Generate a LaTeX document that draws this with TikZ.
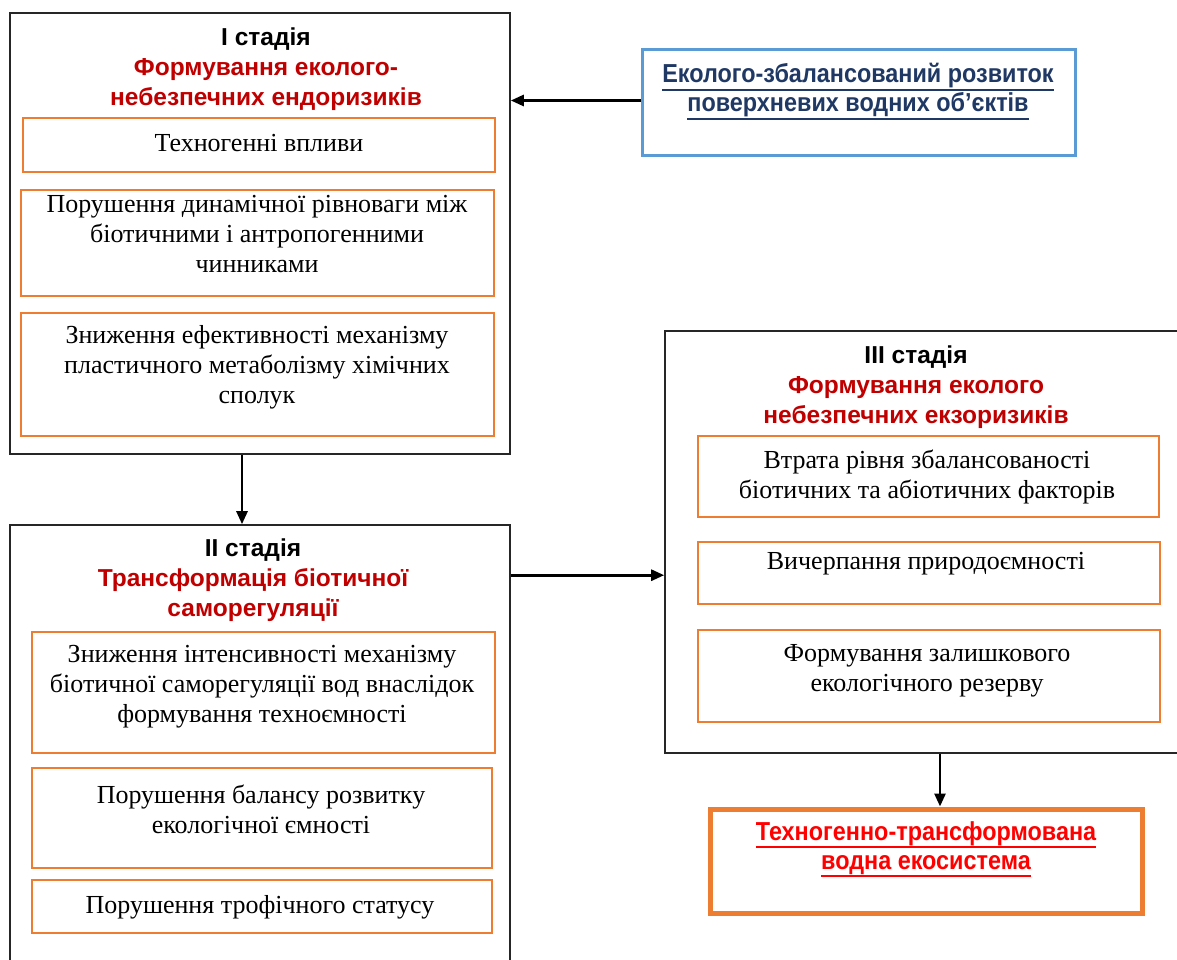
\documentclass[tikz,border=0pt]{standalone}
\usepackage{fontspec}
\setmainfont{Liberation Serif}
\setsansfont{Liberation Sans}
\newfontfamily\headfont{Liberation Sans}
\newfontfamily\condfont{Liberation Sans}[FakeStretch=0.9]
\usetikzlibrary{arrows.meta}

\definecolor{stagered}{HTML}{C00000}
\definecolor{navy}{HTML}{1F3864}
\definecolor{boxorange}{HTML}{ED7D31}
\definecolor{boxblue}{HTML}{5B9BD5}
\definecolor{alarmred}{HTML}{FF0000}

% text with a solid rule of fixed depth under it
\newcommand\ruled[1]{\leavevmode\setbox0\hbox{#1}\rlap{\raisebox{-8pt}{\rule{\wd0}{2pt}}}\box0}

\tikzset{
  stagebox/.style={draw=black!85, line width=1.6pt, rectangle, inner sep=0pt},
  itembox/.style={draw=boxorange, line width=1.8pt, rectangle, inner sep=0pt},
  itemtext/.style={font=\fontsize{26}{30}\selectfont, align=center, inner sep=0pt, anchor=north},
  headtext/.style={font=\headfont\bfseries\fontsize{24.5}{30}\selectfont, align=center, inner sep=0pt, anchor=north},
  goaltext/.style={font=\condfont\bfseries\fontsize{26}{29}\selectfont, align=center, inner sep=0pt, anchor=north},
  arr/.style={-{Triangle[length=13pt,width=11pt]}, line width=2.7pt},
}

\begin{document}
\begin{tikzpicture}[x=1pt, y=-1pt]
\useasboundingbox (0,0) rectangle (1177,960);
\clip (0,0) rectangle (1177,960);

% stage frames
\node[stagebox, minimum width=500, minimum height=441] (stageI) at (260,233.5) {};
\node[stagebox, minimum width=500, minimum height=465] (stageII) at (260,757.5) {};
\node[stagebox, minimum width=535, minimum height=422] (stageIII) at (932.5,542) {};

% goal and result boxes
\node[draw=boxblue, line width=3pt, rectangle, inner sep=0pt, minimum width=433, minimum height=106] (goal) at (859,102.5) {};
\node[draw=boxorange, line width=5pt, rectangle, inner sep=0pt, minimum width=432, minimum height=104] (result) at (926,861) {};

\node[goaltext, text=navy] (goalt) at (858,63)
  {\ruled{Еколого-збалансований розвиток}\\ \ruled{поверхневих водних об’єктів}};
\node[goaltext, text=alarmred] (resultt) at (926,821)
  {\ruled{Техногенно-трансформована}\\ \ruled{водна екосистема}};

% stage I
\node[headtext] (headI) at (266,28)
  {І стадія\\ \textcolor{stagered}{Формування еколого-}\\ \textcolor{stagered}{небезпечних ендоризиків}};
\node[itembox, minimum width=472, minimum height=54] (a1) at (259,145) {};
\node[itembox, minimum width=473, minimum height=106] (a2) at (257.5,243) {};
\node[itembox, minimum width=473, minimum height=123] (a3) at (257.5,374.5) {};
\node[itemtext] (a1t) at (259,134.5) {Техногенні впливи};
\node[itemtext] (a2t) at (257,195.5) {Порушення динамічної рівноваги між\\ біотичними і антропогенними\\ чинниками};
\node[itemtext] (a3t) at (257,325.5) {Зниження ефективності механізму\\ пластичного метаболізму хімічних\\ сполук};

% stage II
\node[headtext] (headII) at (253,539)
  {ІІ стадія\\ \textcolor{stagered}{Трансформація біотичної}\\ \textcolor{stagered}{саморегуляції}};
\node[itembox, minimum width=463, minimum height=121] (b1) at (263.5,692.5) {};
\node[itembox, minimum width=460, minimum height=100] (b2) at (262,818) {};
\node[itembox, minimum width=460, minimum height=53] (b3) at (262,906.5) {};
\node[itemtext] (b1t) at (262,645.5) {Зниження інтенсивності механізму\\ біотичної саморегуляції вод внаслідок\\ формування техноємності};
\node[itemtext] (b2t) at (261,784.5) {Порушення балансу розвитку\\ екологічної ємності};
\node[itemtext] (b3t) at (260,895.5) {Порушення трофічного статусу};

% stage III
\node[headtext] (headIII) at (916,346)
  {ІІІ стадія\\ \textcolor{stagered}{Формування еколого}\\ \textcolor{stagered}{небезпечних екзоризиків}};
\node[itembox, minimum width=461, minimum height=81] (c1) at (928.5,476.5) {};
\node[itembox, minimum width=462, minimum height=62] (c2) at (929,573) {};
\node[itembox, minimum width=462, minimum height=92] (c3) at (929,676) {};
\node[itemtext] (c1t) at (927,449.5) {Втрата рівня збалансованості\\ біотичних та абіотичних факторів};
\node[itemtext] (c2t) at (926,552.5) {Вичерпання природоємності};
\node[itemtext] (c3t) at (927,644.5) {Формування залишкового\\ екологічного резерву};

% connectors
\draw[arr] ([yshift=2pt]goal.west) -- ([yshift=2pt]goal.west -| stageI.east);
\draw[arr] ([xshift=-18pt]stageI.south) -- ([xshift=-18pt]stageI.south |- stageII.north);
\draw[arr] ([yshift=-51pt]stageII.north east) -- ([yshift=-51pt]stageII.north east -| stageIII.west);
\draw[arr] ([xshift=7.5pt]stageIII.south) -- ([xshift=7.5pt]stageIII.south |- result.north);
\end{tikzpicture}
\end{document}
